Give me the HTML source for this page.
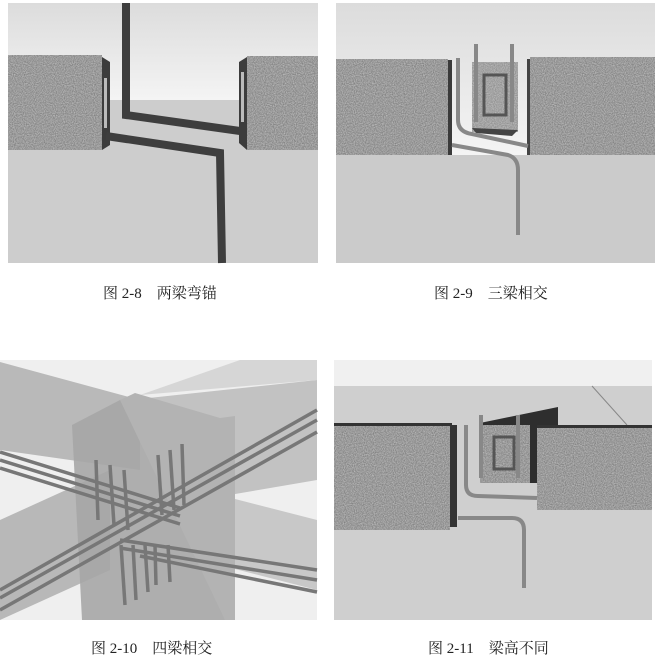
<!DOCTYPE html>
<html><head><meta charset="utf-8">
<style>
html,body{margin:0;padding:0;background:#fff;width:658px;height:662px;overflow:hidden}
svg{display:block}
text{font-family:"Liberation Serif","Noto Serif CJK SC",serif;font-size:15px;fill:#222}
</style></head><body>
<svg width="658" height="662" viewBox="0 0 658 662" xmlns="http://www.w3.org/2000/svg">
<defs>
<filter id="con" x="0" y="0" width="100%" height="100%">
<feTurbulence type="fractalNoise" baseFrequency="0.9" numOctaves="2" seed="3" result="n"/>
<feColorMatrix in="n" type="matrix" values="0 0 0 0 0.55  0 0 0 0 0.55  0 0 0 0 0.55  0 0 0 -1.3 1.1" result="c"/>
<feComposite in="c" in2="SourceGraphic" operator="in"/>
</filter>
<linearGradient id="sky" x1="0" y1="0" x2="0" y2="1"><stop offset="0" stop-color="#dcdcdc"/><stop offset="1" stop-color="#f4f4f4"/></linearGradient>
</defs>

<!-- Panel 1 -->
<rect x="8" y="3" width="310" height="97" fill="url(#sky)"/>
<rect x="8" y="100" width="310" height="163" fill="#cdcdcd"/>
<g><rect x="8" y="55" width="94" height="95" fill="#7a7a7a"/><rect x="8" y="55" width="94" height="95" fill="#888" filter="url(#con)"/></g>
<g><rect x="247" y="56" width="71" height="94" fill="#7a7a7a"/><rect x="247" y="56" width="71" height="94" fill="#888" filter="url(#con)"/></g>
<polygon points="102,57 110,62 110,145 102,150" fill="#3c3c3c"/>
<rect x="104" y="78" width="3" height="50" fill="#bbb"/>
<polygon points="247,57 239,62 239,143 247,150" fill="#3c3c3c"/>
<rect x="241" y="72" width="3" height="50" fill="#bbb"/>
<polyline points="126,3 126,115 240,131" fill="none" stroke="#3e3e3e" stroke-width="8"/>
<polyline points="106,136 220,153 222,263" fill="none" stroke="#3e3e3e" stroke-width="8"/>
<text x="103" y="298">图 2-8　两梁弯锚</text>

<!-- Panel 2 -->
<rect x="336" y="3" width="319" height="152" fill="url(#sky)"/>
<rect x="336" y="155" width="319" height="108" fill="#cbcbcb"/>
<g><rect x="336" y="59" width="112" height="96" fill="#7a7a7a"/><rect x="336" y="59" width="112" height="96" fill="#888" filter="url(#con)"/></g>
<rect x="448" y="60" width="4" height="95" fill="#3a3a3a"/>
<g><rect x="530" y="57" width="125" height="98" fill="#7a7a7a"/><rect x="530" y="57" width="125" height="98" fill="#888" filter="url(#con)"/></g>
<rect x="527" y="59" width="3" height="96" fill="#444"/>
<rect x="472" y="62" width="46" height="70" fill="#8a8a8a"/>
<rect x="472" y="62" width="46" height="70" fill="#8a8a8a" filter="url(#con)"/>
<polygon points="472,128 518,130 512,136 476,133" fill="#444"/>
<rect x="484" y="75" width="22" height="40" fill="none" stroke="#555" stroke-width="3"/>
<line x1="476" y1="44" x2="476" y2="122" stroke="#888" stroke-width="4"/>
<line x1="512" y1="44" x2="512" y2="122" stroke="#888" stroke-width="4"/>
<path d="M458,58 L458,120 Q458,132 472,134 L528,146" fill="none" stroke="#888" stroke-width="4"/>
<path d="M452,145 L508,155 Q518,158 518,170 L518,235" fill="none" stroke="#888" stroke-width="4"/>
<text x="434" y="298">图 2-9　三梁相交</text>

<!-- Panel 3 -->
<rect x="0" y="360" width="317" height="260" fill="#efefef"/>
<polygon points="0,362 140,400 140,470 0,450" fill="#b9b9b9"/>
<polygon points="130,400 317,380 317,480 200,500" fill="#c2c2c2"/>
<polygon points="140,395 240,360 317,360 317,380" fill="#d6d6d6"/>
<polygon points="0,520 110,470 110,570 0,620" fill="#b8b8b8"/>
<polygon points="200,490 317,520 317,590 200,560" fill="#c8c8c8"/>
<polygon points="72,425 120,400 175,418 220,418 225,620 82,620" fill="#a6a6a6" opacity="0.9"/>
<polygon points="120,400 135,393 220,418 235,416 235,620 225,620" fill="#b3b3b3"/>
<g stroke="#777" stroke-width="3.5" fill="none">
<line x1="0" y1="452" x2="180" y2="508"/><line x1="0" y1="460" x2="180" y2="516"/><line x1="0" y1="468" x2="180" y2="524"/>
<line x1="0" y1="590" x2="317" y2="410"/><line x1="0" y1="598" x2="317" y2="420"/><line x1="0" y1="610" x2="317" y2="432"/>
<line x1="120" y1="540" x2="317" y2="570"/><line x1="120" y1="548" x2="317" y2="580"/><line x1="140" y1="556" x2="317" y2="592"/>
<line x1="96" y1="460" x2="98" y2="520"/><line x1="110" y1="465" x2="114" y2="525"/><line x1="124" y1="470" x2="128" y2="530"/>
<line x1="158" y1="455" x2="162" y2="515"/><line x1="170" y1="450" x2="174" y2="510"/><line x1="182" y1="444" x2="184" y2="505"/>
<line x1="121" y1="545" x2="125" y2="605"/><line x1="133" y1="545" x2="136" y2="600"/><line x1="145" y1="545" x2="148" y2="592"/><line x1="155" y1="545" x2="156" y2="585"/><line x1="168" y1="545" x2="170" y2="582"/>
</g>
<text x="91" y="653">图 2-10　四梁相交</text>

<!-- Panel 4 -->
<rect x="334" y="360" width="318" height="26" fill="#f0f0f0"/>
<rect x="334" y="386" width="318" height="234" fill="#cfcfcf"/>
<line x1="592" y1="386" x2="627" y2="425" stroke="#888" stroke-width="1"/>
<polygon points="480,423 558,407 558,483 480,483" fill="#2e2e2e"/>
<g><rect x="480" y="425" width="50" height="58" fill="#7a7a7a"/><rect x="480" y="425" width="50" height="58" fill="#888" filter="url(#con)"/></g>
<rect x="494" y="437" width="20" height="32" fill="none" stroke="#555" stroke-width="3"/>
<g><rect x="334" y="425" width="116" height="105" fill="#7a7a7a"/><rect x="334" y="425" width="116" height="105" fill="#888" filter="url(#con)"/></g>
<rect x="334" y="423" width="118" height="3" fill="#333"/>
<rect x="450" y="425" width="7" height="102" fill="#333"/>
<g><rect x="537" y="427" width="115" height="83" fill="#7a7a7a"/><rect x="537" y="427" width="115" height="83" fill="#888" filter="url(#con)"/></g>
<rect x="537" y="425" width="115" height="3" fill="#333"/>
<line x1="481" y1="415" x2="481" y2="478" stroke="#888" stroke-width="4"/>
<line x1="518" y1="415" x2="518" y2="478" stroke="#888" stroke-width="4"/>
<path d="M466,425 L466,485 Q466,496 478,496 L537,498" fill="none" stroke="#888" stroke-width="4"/>
<path d="M458,518 L512,518 Q524,518 524,530 L524,588" fill="none" stroke="#888" stroke-width="4"/>
<text x="428" y="653">图 2-11　梁高不同</text>
</svg>
</body></html>
